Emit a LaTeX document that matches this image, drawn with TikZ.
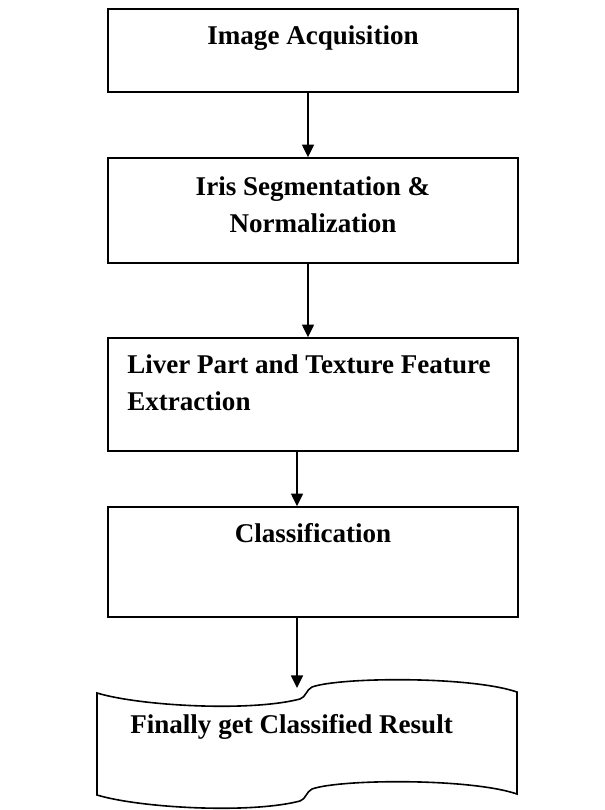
\documentclass[tikz,border=0pt]{standalone}
\usepackage{fontspec}
\setmainfont{Liberation Serif}
\usetikzlibrary{arrows.meta}

\begin{document}
\begin{tikzpicture}[x=0.75pt, y=-0.75pt,
        box/.style={draw=black, line width=1.2pt, minimum width=307.5pt, inner sep=0pt},
        lbl/.style={font=\fontsize{20.3}{27.75}\selectfont\bfseries, inner sep=0pt},
        arr/.style={line width=1.2pt, -{Triangle[length=9.5pt,width=9pt]}}]
            \useasboundingbox (0,0) rectangle (605,810);
            \node[box, minimum height=62.25pt] (acq) at (313,50.5) {};
            \node[box, minimum height=78.75pt] (seg) at (313,210.5) {};
            \node[box, minimum height=84.75pt] (feat) at (313,394.5) {};
            \node[box, minimum height=82.5pt] (cls) at (313,562) {};
            \node[lbl, anchor=base] (acqtxt) at (313,44) {Image Acquisition};
            \node[lbl, anchor=north, align=center] (segtxt) at (313,176.4) {Iris Segmentation \&\\Normalization};
            \node[lbl, anchor=north west, align=left] (feattxt) at (127,354.7) {Liver Part and Texture Feature\\Extraction};
            \node[lbl, anchor=base] (clstxt) at (313,542) {Classification};
            \draw[line width=1.2pt] (97,693) .. controls (140,706) and (250,712) .. (300,699)
                .. controls (306,697) and (306,690) .. (312,687)
                .. controls (340,677) and (470,676) .. (517,692) -- (517,794)
                .. controls (470,778) and (340,779) .. (312,789)
                .. controls (306,792) and (306,799) .. (300,801)
                .. controls (250,814) and (140,808) .. (97,795) -- cycle;
            \node[lbl, anchor=base west] (restxt) at (130,733) {Finally get Classified Result};
            \coordinate (resin) at (297,688);
            \draw[arr] ([xshift=-3.75pt]acq.south) -- ([xshift=-3.75pt]seg.north);
            \draw[arr] ([xshift=-3.75pt]seg.south) -- ([xshift=-3.75pt]feat.north);
            \draw[arr] ([xshift=-12pt]feat.south) -- ([xshift=-12pt]cls.north);
            \draw[arr] ([xshift=-12pt]cls.south) -- (resin);
        \end{tikzpicture}
\end{document}
